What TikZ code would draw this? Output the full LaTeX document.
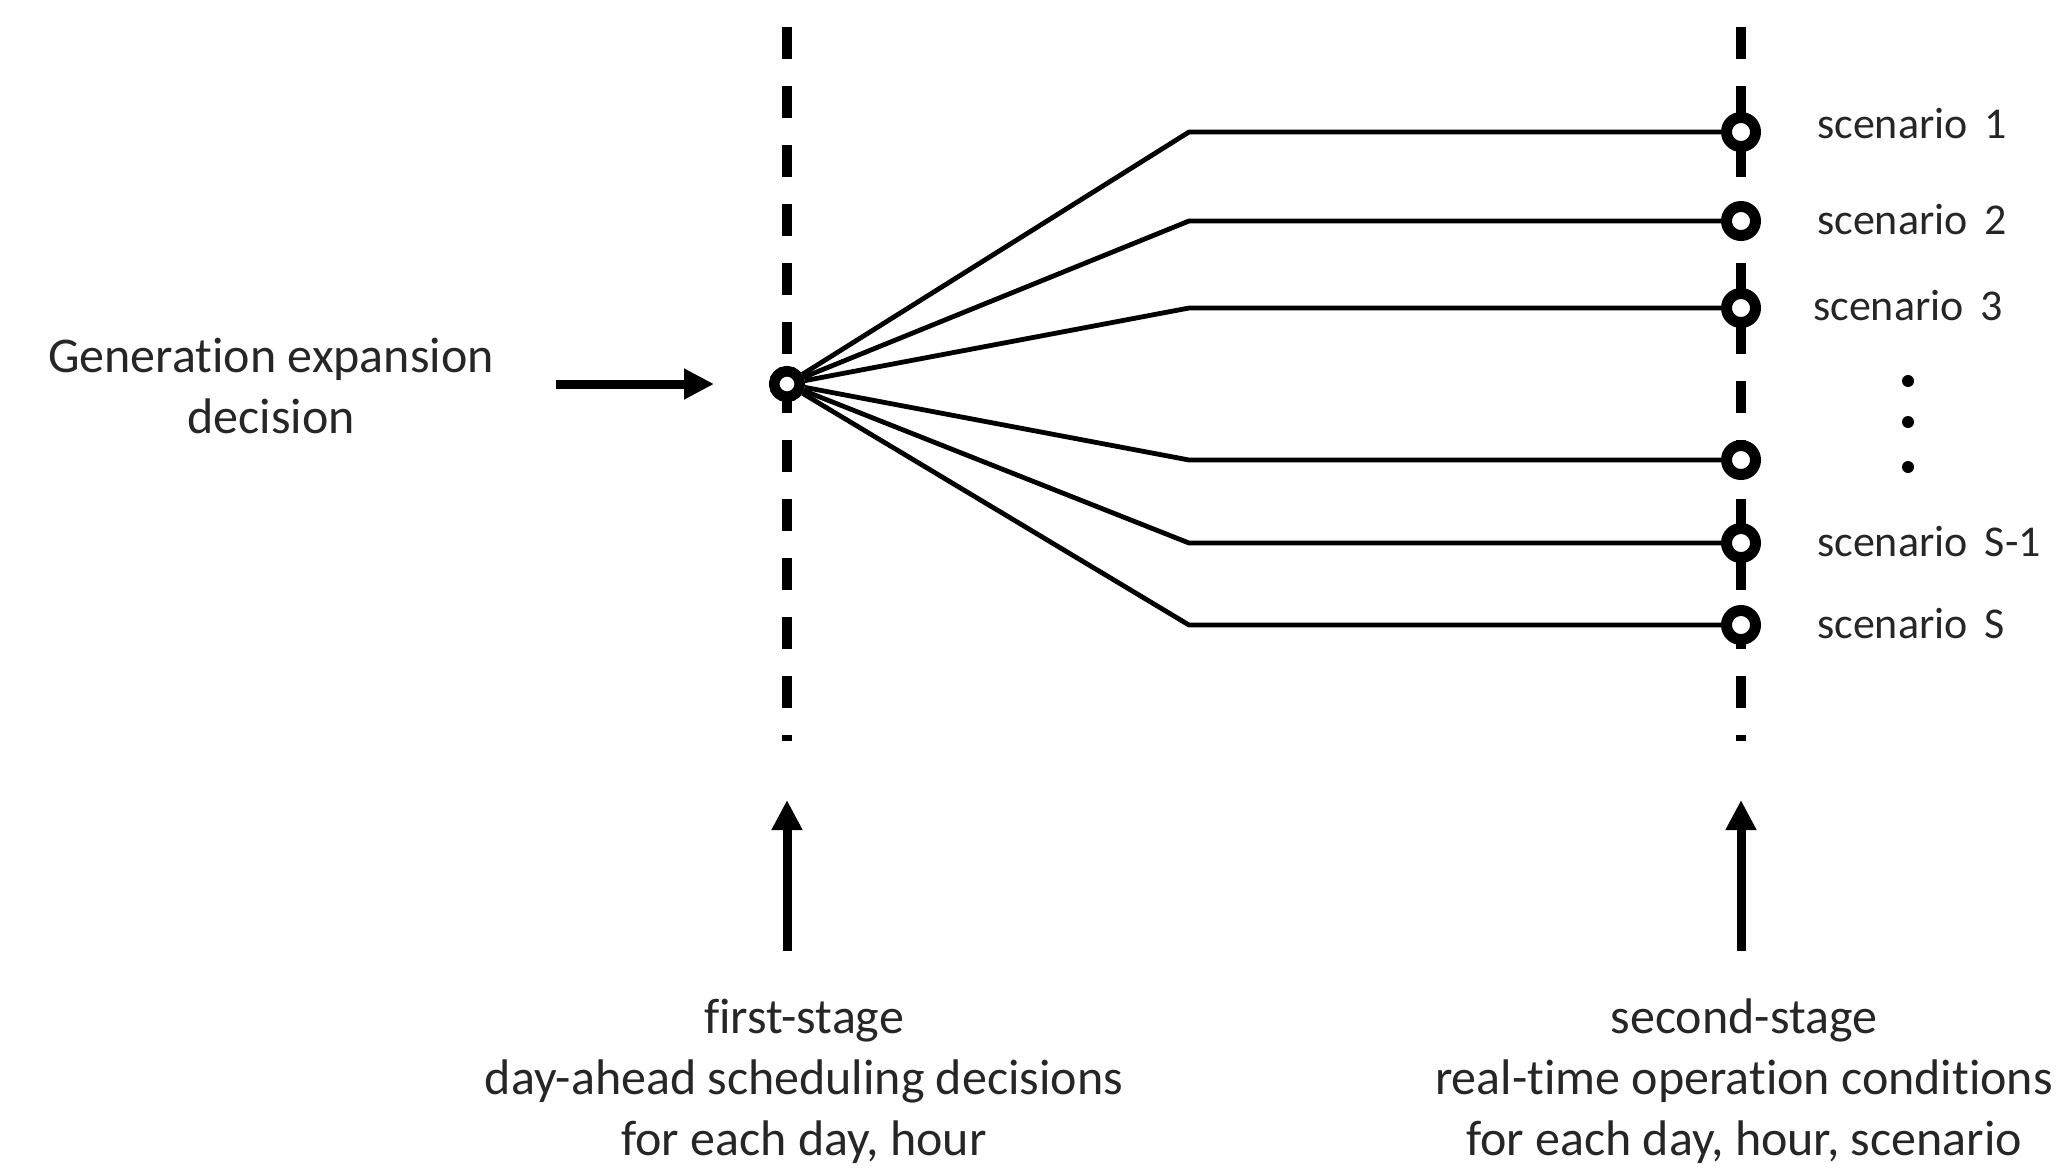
\documentclass[tikz,border=0pt]{standalone}
\usepackage{fontspec}
\setmainfont[Ligatures=NoCommon]{Carlito}
\usetikzlibrary{arrows.meta}
\begin{document}
\begin{tikzpicture}[x=1pt,y=-1pt,
  stageline/.style={line width=9.5pt, dash pattern=on 32pt off 27pt},
  ring/.style={circle, draw, line width=11pt, fill=white, minimum size=29pt, inner sep=0pt},
  rootring/.style={circle, draw, line width=10.5pt, fill=white, minimum size=25.5pt, inner sep=0pt},
  branch/.style={line width=4.8pt, line join=round},
  bigarrow/.style={line width=9pt, -{Triangle[length=30pt,width=29pt]}},
  bigtext/.style={font=\fontsize{50}{61}\selectfont, text=black!85, align=center, inner sep=0pt},
  sctext/.style={font=\fontsize{44}{52}\selectfont, text=black!85, inner sep=0pt, anchor=base west},
  dotmark/.style={circle, fill=black, minimum size=12pt, inner sep=0pt}
]
\useasboundingbox (0,0) rectangle (2056,1168);

% stage lines
\coordinate (L0) at (787,27);
\coordinate (L1) at (787,741);
\coordinate (R0) at (1741,27);
\coordinate (R1) at (1741,741);
\draw[stageline] (L0) -- (L1);
\draw[stageline] (R0) -- (R1);

% root node
\node[rootring] (root) at (787,384) {};

% bend coordinates and scenario nodes
\foreach \i/\y in {1/132, 2/221, 3/308, 4/460, 5/543, 6/625}{
  \coordinate (b\i) at (1189,\y);
  \node[ring] (s\i) at (1741,\y) {};
  \draw[branch] (root) -- (b\i) -- (s\i);
}
\node[rootring] at (root) {};

% scenario labels
\node[sctext] (t1) at (1817,138) {scenario\, 1};
\node[sctext] (t2) at (1817,234) {scenario\, 2};
\node[sctext] (t3) at (1813,320) {scenario\, 3};
\node[sctext] (t5) at (1817,556) {scenario\, S-1};
\node[sctext] (t6) at (1817,638) {scenario\, S};

% vertical dots
\node[dotmark] (d1) at (1908,381) {};
\node[dotmark] (d2) at (1908,422) {};
\node[dotmark] (d3) at (1908,467) {};

% left input
\node[bigtext, anchor=base] (gen) at (271,433) {Generation expansion\\decision};
\coordinate (a0) at (556,384);
\coordinate (a1) at (714,384);
\draw[bigarrow] (a0) -- (a1);

% bottom labels
\node[bigtext, anchor=base] (first) at (804,1155) {first-stage\\day-ahead scheduling decisions\\for each day, hour};
\node[bigtext, anchor=base] (second) at (1744,1155) {second-stage\\real-time operation conditions\\for each day, hour, scenario};
\coordinate (u0) at (787,951);
\coordinate (u1) at (787,800);
\coordinate (v0) at (1741,951);
\coordinate (v1) at (1741,800);
\draw[bigarrow] (u0) -- (u1);
\draw[bigarrow] (v0) -- (v1);
\end{tikzpicture}
\end{document}
